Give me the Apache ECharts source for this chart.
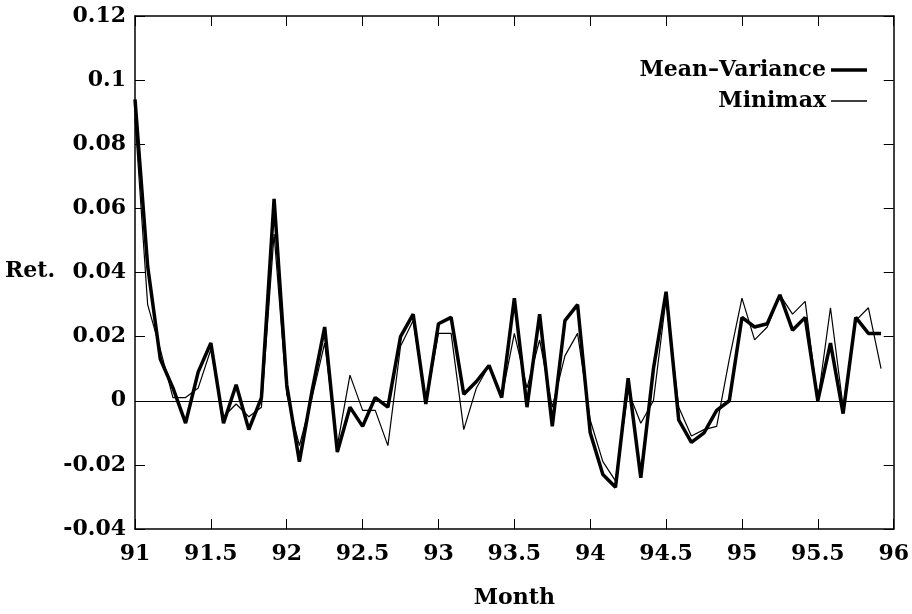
<!DOCTYPE html>
<html>
<head>
<meta charset="utf-8">
<script src="https://cdn.jsdelivr.net/npm/echarts@6/dist/echarts.min.js"></script>
<style>
  html, body { margin: 0; padding: 0; background: #fff; }
  #chart { width: 912px; height: 614px; }
</style>
</head>
<body>
<div id="chart"></div>
<script>
// monthly returns, Jan 91 .. Dec 95
const startYear = 91;
const monthCount = 60;
const meanVariance = [
  0.094, 0.042, 0.013, 0.004, -0.007, 0.009, 0.018, -0.007, 0.005, -0.009, 0.001, 0.063,
  0.005, -0.019, 0.003, 0.023, -0.016, -0.002, -0.008, 0.001, -0.002, 0.020, 0.027, -0.001,
  0.024, 0.026, 0.002, 0.006, 0.011, 0.001, 0.032, -0.002, 0.027, -0.008, 0.025, 0.030,
  -0.010, -0.023, -0.027, 0.007, -0.024, 0.010, 0.034, -0.006, -0.013, -0.010, -0.003, 0.000,
  0.026, 0.023, 0.024, 0.033, 0.022, 0.026, 0.000, 0.018, -0.004, 0.026, 0.021, 0.021
];
const minimax = [
  0.088, 0.030, 0.016, 0.001, 0.001, 0.004, 0.016, -0.005, -0.001, -0.005, -0.002, 0.052,
  0.002, -0.014, 0.001, 0.018, -0.014, 0.008, -0.003, -0.003, -0.014, 0.017, 0.025, -0.001,
  0.021, 0.021, -0.009, 0.004, 0.011, 0.001, 0.021, 0.004, 0.019, -0.002, 0.014, 0.021,
  -0.006, -0.019, -0.025, 0.003, -0.007, 0.000, 0.032, -0.002, -0.011, -0.009, -0.008, 0.013,
  0.032, 0.019, 0.023, 0.033, 0.027, 0.031, 0.000, 0.029, -0.002, 0.025, 0.029, 0.010
];
const seriesNames = ["Mean\u2013Variance", "Minimax"];

const months = Array.from({ length: monthCount }, (_, i) => startYear + i / 12);
const pair = (vals) => vals.map((v, i) => [months[i], v]);

const FONT = "DejaVu Serif";
const txt = { color: "#000", fontFamily: FONT, fontWeight: "bold", fontSize: 22 };
const axisLine = { show: true, onZero: false, lineStyle: { color: "#000", width: 1.5 } };
const ticks = { show: true, inside: true, length: 10, lineStyle: { color: "#000", width: 1 } };

const chart = echarts.init(document.getElementById("chart"), null, { renderer: "canvas" });

chart.setOption({
  animation: false,
  backgroundColor: "#fff",
  grid: { left: 135, right: 7, top: 16, bottom: 84, containLabel: false },
  legend: {
    orient: "vertical",
    right: 40,
    top: 54,
    align: "right",
    itemWidth: 36,
    itemHeight: 14,
    itemGap: 9,
    textStyle: txt,
    data: [
      { name: seriesNames[0], icon: "path://M0,0L36,0L36,3.5L0,3.5Z" },
      { name: seriesNames[1], icon: "path://M0,0L36,0L36,1.3L0,1.3Z" }
    ]
  },
  xAxis: [
    {
      type: "value",
      min: 91,
      max: 96,
      interval: 0.5,
      position: "bottom",
      name: "Month",
      nameLocation: "middle",
      nameGap: 58,
      nameTextStyle: txt,
      axisLine: axisLine,
      axisTick: ticks,
      axisLabel: Object.assign({ margin: 14 }, txt),
      splitLine: { show: false }
    },
    {
      type: "value",
      min: 91,
      max: 96,
      interval: 0.5,
      position: "top",
      axisLine: axisLine,
      axisTick: ticks,
      axisLabel: { show: false },
      splitLine: { show: false }
    }
  ],
  yAxis: [
    {
      type: "value",
      min: -0.04,
      max: 0.12,
      interval: 0.02,
      position: "left",
      axisLine: axisLine,
      axisTick: ticks,
      axisLabel: Object.assign({
        margin: 9,
        formatter: (v) => String(Math.round(v * 100) / 100)
      }, txt),
      splitLine: { show: false }
    },
    {
      type: "value",
      min: -0.04,
      max: 0.12,
      interval: 0.02,
      position: "right",
      axisLine: axisLine,
      axisTick: ticks,
      axisLabel: { show: false },
      splitLine: { show: false }
    }
  ],
  graphic: [
    { type: "text", left: 5, top: 260, style: { text: "Ret.", fill: "#000", font: "bold 22px 'DejaVu Serif'" } }
  ],
  series: [
    {
      name: seriesNames[0],
      type: "line",
      data: pair(meanVariance),
      showSymbol: false,
      symbol: "none",
      lineStyle: { color: "#000", width: 3.5 },
      itemStyle: { color: "#000" },
      z: 3,
      markLine: {
        silent: true,
        symbol: ["none", "none"],
        label: { show: false },
        lineStyle: { color: "#000", width: 1.2, type: "solid" },
        data: [{ yAxis: 0 }]
      }
    },
    {
      name: seriesNames[1],
      type: "line",
      data: pair(minimax),
      showSymbol: false,
      symbol: "none",
      lineStyle: { color: "#000", width: 1.2 },
      itemStyle: { color: "#000" },
      z: 4
    }
  ]
});
</script>
</body>
</html>
